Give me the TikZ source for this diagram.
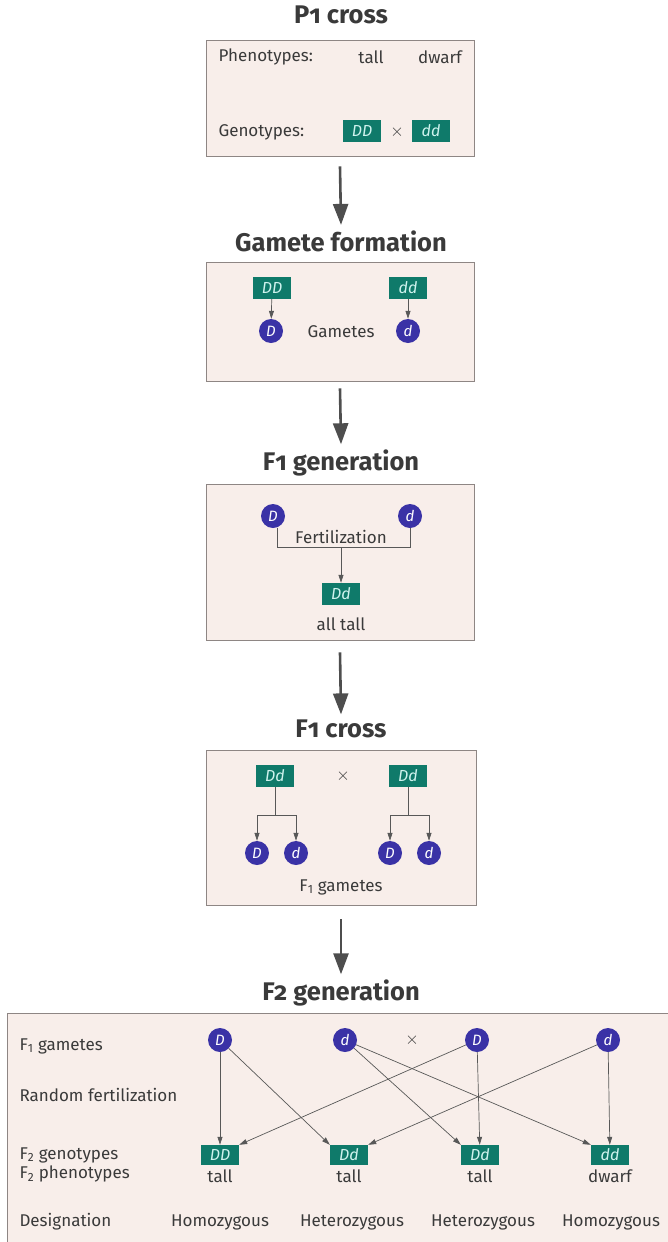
\documentclass[tikz,border=0pt]{standalone}
\usepackage{fontspec}
\setmainfont{Fira Sans}
\usetikzlibrary{arrows.meta}
\definecolor{ink}{HTML}{3A3A3A}
\definecolor{panelfill}{HTML}{F8EEEA}
\definecolor{panelline}{HTML}{8E8684}
\definecolor{genofill}{HTML}{0F7A6A}
\definecolor{genotext}{HTML}{CFF3EE}
\definecolor{gamfill}{HTML}{3A32A6}
\begin{document}
\begin{tikzpicture}[x=1pt,y=-1pt,
  every node/.style={text=ink, font=\fontsize{17}{19}\selectfont},
  title/.style={font=\fontsize{25.5}{28}\selectfont\bfseries\addfontfeatures{Numbers=OldStyle}},
  panel/.style={draw=panelline, fill=panelfill, line width=0.8pt},
  geno/.style={rectangle, fill=genofill, text=genotext, minimum width=38pt, minimum height=22pt, inner sep=0pt, font=\fontsize{16}{18}\selectfont\itshape},
  gam/.style={circle, fill=gamfill, text=white, minimum size=24pt, inner sep=0pt, font=\fontsize{15}{17}\selectfont\itshape},
  bigarrow/.style={draw=ink!90, line width=2.6pt, -{Triangle[length=21pt, width=15pt]}},
  thin/.style={draw=ink!85, line width=0.7pt, -{Triangle[length=8pt, width=5pt]}},
  plain/.style={draw=ink!85, line width=0.7pt},
  lbl/.style={anchor=west}
]
\useasboundingbox (0,0) rectangle (668,1242);

% ---------- P1 cross ----------
\node[title] (t1) at (341,15) {P1 cross};
\node[panel, minimum width=268pt, minimum height=116pt] (p1) at (340,98) {};
\node[lbl] (ph1) at (215,57) {Phenotypes:};
\node (tall1) at (371,57) {tall};
\node (dwarf1) at (440,57) {dwarf};
\node[lbl] (gt1) at (215,132) {Genotypes:};
\node[geno] (DD1) at (362,131) {DD};
\node (x1) at (397,132) {$\times$};
\node[geno] (dd1) at (431,131) {dd};

\node[title] (t2) at (341,241) {Gamete formation};
\draw[bigarrow] ([yshift=-10pt]p1.south) -- ([yshift=2pt]t2.north);

% ---------- Gamete formation ----------
\node[panel, minimum width=268pt, minimum height=119pt] (p2) at (340,321.5) {};
\node[geno] (DD2) at (272,288) {DD};
\node[geno] (dd2) at (408,288) {dd};
\node[gam] (gD2) at (271,331) {D};
\node[gam] (gd2) at (408,331) {d};
\node (gam2) at (341,332) {Gametes};
\draw[thin] (DD2) -- (gD2);
\draw[thin] (dd2) -- (gd2);

\node[title] (t3) at (341,463) {F1 generation};
\draw[bigarrow] ([yshift=-7pt]p2.south) -- ([yshift=2pt]t3.north);

% ---------- F1 generation ----------
\node[panel, minimum width=268pt, minimum height=156pt] (p3) at (340,562) {};
\node[gam] (gD3) at (273,516) {D};
\node[gam] (gd3) at (410,516) {d};
\node (fert) at (341,537) {Fertilization};
\node[geno] (Dd3) at (341,594) {Dd};
\node (alltall) at (341,624) {all tall};
\coordinate (j3) at (341,547);
\draw[plain] (277,528) -- (277,547) -- (410,547) -- (410,528);
\draw[thin] (j3) -- (Dd3);

\node[title] (t4) at (341,729) {F1 cross};
\draw[bigarrow] ([yshift=-12pt]p3.south) -- ([yshift=2pt]t4.north);

% ---------- F1 cross ----------
\node[panel, minimum width=270pt, minimum height=155pt] (p4) at (341,827.5) {};
\node[geno] (Dd4a) at (275,776) {Dd};
\node (x4) at (343,776) {$\times$};
\node[geno] (Dd4b) at (408,776) {Dd};
\node[gam] (gD4a) at (257,853) {D};
\node[gam] (gd4a) at (296,853) {d};
\node[gam] (gD4b) at (390,853) {D};
\node[gam] (gd4b) at (429,853) {d};
\node (f1g4) at (341,887) {F\textsubscript{1} gametes};
\coordinate (ja) at (275,815);
\coordinate (jb) at (408,815);
\draw[plain] (Dd4a.south) -- (ja);
\draw[plain] (Dd4b.south) -- (jb);
\draw[thin] (ja) -| (gD4a.north);
\draw[thin] (ja) -| (gd4a.north);
\draw[thin] (jb) -| (gD4b.north);
\draw[thin] (jb) -| (gd4b.north);

\node[title] (t5) at (341,993) {F2 generation};
\draw[bigarrow] ([yshift=-14pt]p4.south) -- ([yshift=2pt]t5.north);

% ---------- F2 generation (panel runs off the right and bottom edges) ----------
\fill[panelfill] (7.4,1013.4) rectangle (668,1242);
\draw[panelline, line width=0.8pt] (7,1246) -- (7,1013) -- (672,1013);

\node[lbl] (r1) at (16,1046) {F\textsubscript{1} gametes};
\node[lbl] (r2) at (16,1095) {Random fertilization};
\node[lbl] (r3) at (16,1155) {F\textsubscript{2} genotypes};
\node[lbl] (r4) at (16,1174) {F\textsubscript{2} phenotypes};
\node[lbl] (r5) at (16,1222) {Designation};

\node[gam] (a1) at (220,1040) {D};
\node[gam] (a2) at (345,1040) {d};
\node (x5) at (412,1040) {$\times$};
\node[gam] (a3) at (477,1040) {D};
\node[gam] (a4) at (608,1040) {d};

\node[geno, minimum height=20pt] (b1) at (220,1155) {DD};
\node[geno, minimum height=20pt] (b2) at (349,1155) {Dd};
\node[geno, minimum height=20pt] (b3) at (480,1155) {Dd};
\node[geno, minimum height=20pt] (b4) at (610,1155) {dd};

\node (c1) at (220,1176) {tall};
\node (c2) at (349,1176) {tall};
\node (c3) at (480,1176) {tall};
\node (c4) at (610,1176) {dwarf};

\node (d1) at (220,1222) {Homozygous};
\node (d2) at (352,1222) {Heterozygous};
\node (d3) at (483,1222) {Heterozygous};
\node (d4) at (611,1222) {Homozygous};

\draw[thin] (a1) -- (b1);
\draw[thin] (a1) -- (b2.north west);
\draw[thin] (a2) -- (b3.north west);
\draw[thin] (a2) -- (b4.north west);
\draw[thin] (a3) -- (b1.north east);
\draw[thin] (a3) -- (b3);
\draw[thin] (a4) -- (b2.north east);
\draw[thin] (a4) -- (b4);
\end{tikzpicture}
\end{document}
